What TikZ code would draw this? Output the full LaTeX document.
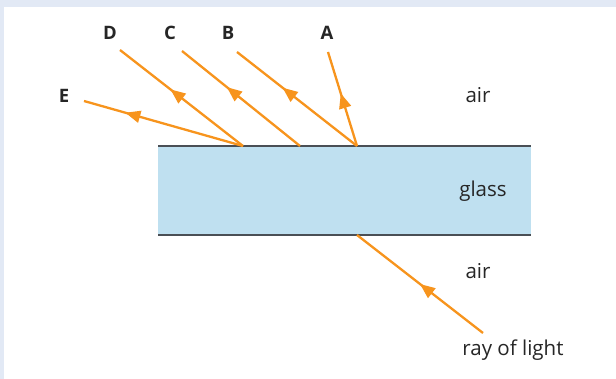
\documentclass[tikz,border=0pt]{standalone}
\usepackage{fontspec}
\setmainfont{Open Sans}
\usepackage{tikz}
\usetikzlibrary{arrows.meta, decorations.markings}

\definecolor{rayorange}{HTML}{F7941D}
\definecolor{glassblue}{HTML}{BFE0F0}
\definecolor{framebg}{HTML}{E2E9F5}
\definecolor{edgegrey}{HTML}{4A4F55}

\tikzset{
    ray/.style={rayorange, line width=2.3pt},
    arrowat/.style={postaction=decorate, decoration={markings,
        mark=at position #1 with {\arrow{Triangle[length=15pt,width=12pt]}}}},
    medium/.style={font=\fontsize{20.5}{24}\selectfont, text=black!85, inner sep=0pt},
    raylabel/.style={font=\fontsize{18.5}{22}\selectfont\bfseries, text=black!85, inner sep=0pt}
}

\begin{document}
\begin{tikzpicture}[x=1pt, y=-1pt]

    % =================================================================
    % 1. KHUNG NỀN
    % =================================================================
    \useasboundingbox (0,0) rectangle (616,379);
    \fill[framebg] (0,0) rectangle (616,379);
    \fill[white] (4,7) rectangle (616,379);

    % =================================================================
    % 2. TẤM THỦY TINH
    % =================================================================
    \fill[glassblue] (158,146) rectangle (531,235);
    \draw[edgegrey, line width=1.3pt] (158,146) -- (531,146);
    \draw[edgegrey, line width=1.3pt] (158,235) -- (531,235);

    % Các điểm tới và điểm ló
    \coordinate (src) at (483,333);
    \coordinate (entry) at (357,235);
    \coordinate (hitA) at (357,146);
    \coordinate (hitC) at (300,146);
    \coordinate (hitD) at (243,146);
    \coordinate (endA) at (328,52);
    \coordinate (endB) at (237,52);
    \coordinate (endC) at (182,51);
    \coordinate (endD) at (120,50);
    \coordinate (endE) at (84,101);

    % =================================================================
    % 3. CÁC TIA SÁNG
    % =================================================================
    \draw[ray, arrowat=0.5] (src) -- (entry);
    \draw[ray, arrowat=0.56] (hitA) -- (endA);
    \draw[ray, arrowat=0.62] (hitA) -- (endB);
    \draw[ray, arrowat=0.62] (hitC) -- (endC);
    \draw[ray, arrowat=0.59] (hitD) -- (endD);
    \draw[ray, arrowat=0.74] (hitD) -- (endE);

    % =================================================================
    % 4. NHÃN
    % =================================================================
    \node[raylabel] (labD) at (110,33) {D};
    \node[raylabel] (labC) at (170,33) {C};
    \node[raylabel] (labB) at (228,33) {B};
    \node[raylabel] (labA) at (327,33) {A};
    \node[raylabel] (labE) at (64,96) {E};

    \node[medium] (airtop) at (478,95) {air};
    \node[medium] (glass) at (483,191) {glass};
    \node[medium] (airlow) at (478,271) {air};
    \node[medium] (raytext) at (513,350) {ray of light};

\end{tikzpicture}
\end{document}
